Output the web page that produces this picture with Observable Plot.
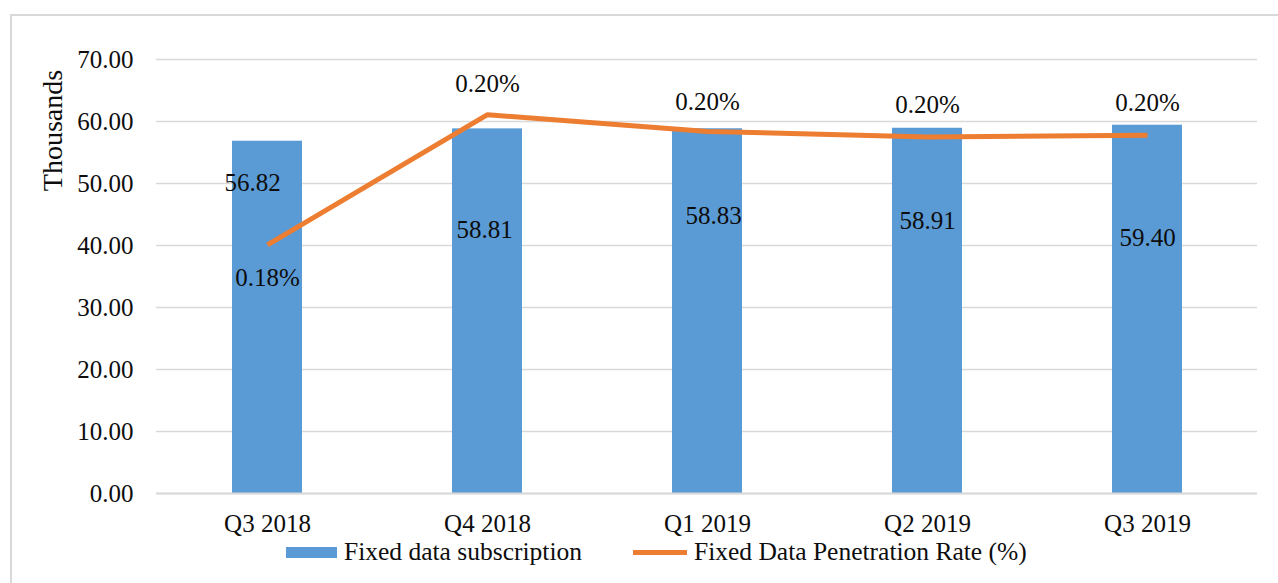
<!DOCTYPE html>
<html><head><meta charset="utf-8">
<script src="https://cdn.jsdelivr.net/npm/d3@7"></script>
<script src="https://cdn.jsdelivr.net/npm/@observablehq/plot@0.6"></script>
<style>
body{margin:0;width:1278px;height:583px;overflow:hidden;background:#fff;position:relative;font-family:"Liberation Serif",serif;}
#frame{position:absolute;left:10px;top:14px;width:1300px;height:620px;border:2px solid #d9d9d9;}
#chart{position:absolute;left:0;top:0;}
#legend{position:absolute;left:286px;top:537px;height:30px;display:flex;align-items:center;font-size:25.5px;color:#0d0d0d;white-space:nowrap;}
.sw{display:inline-block;}
</style></head><body>
<div id="frame"></div><div id="chart"></div><div id="legend"></div>
<script>
// ---- data ----
const quarters = ["Q3 2018", "Q4 2018", "Q1 2019", "Q2 2019", "Q3 2019"];
const subscriptions = [56.82, 58.81, 58.83, 58.91, 59.40];      // thousands
const penetration = [0.1801, 0.2011, 0.1984, 0.1975, 0.1978];   // percent
const yTicks = [0, 10, 20, 30, 40, 50, 60, 70];
const seriesNames = ["Fixed data subscription", "Fixed Data Penetration Rate (%)"];
const rateAxis = [0.14, 0.21]; // hidden secondary axis range

// ---- label layout (in y units / px offsets) ----
const barLabelY = [50.1, 42.5, 44.7, 43.9, 41.2];
const barLabelDx = [-15, -3, 6, 0, 0];
const rateLabelY = [34.8, 66.0, 63.2, 62.6, 63.0];

const blue = "#5B9BD5", orange = "#ED7D31", grid = "#d9d9d9", ink = "#0d0d0d";
const yMax = yTicks[yTicks.length - 1];
const toPrimary = r => (r - rateAxis[0]) / (rateAxis[1] - rateAxis[0]) * yMax;

const rows = quarters.map((q, i) => ({q, v: subscriptions[i], r: penetration[i]}));
const fmt2 = d3.format(".2f");

const chart = Plot.plot({
  width: 1278, height: 583,
  marginLeft: 156, marginRight: 21, marginTop: 59, marginBottom: 90,
  style: {fontFamily: "Liberation Serif, serif", fontSize: "25px", color: ink, background: "transparent"},
  x: {domain: quarters, paddingInner: 0.682, paddingOuter: 0.341, label: null},
  y: {domain: [0, yMax], label: null},
  marks: [
    Plot.gridY(yTicks, {stroke: grid, strokeOpacity: 1, strokeWidth: 1.5}),
    Plot.axisY(yTicks, {tickSize: 0, tickPadding: 23, tickFormat: fmt2, label: null}),
    Plot.axisX({tickSize: 0, tickPadding: 21, label: null}),
    Plot.barY(rows, {x: "q", y: "v", fill: blue}),
    Plot.ruleY([0], {stroke: grid, strokeWidth: 2}),
    Plot.line(rows, {x: "q", y: d => toPrimary(d.r), stroke: orange, strokeWidth: 5, strokeLinejoin: "round", strokeLinecap: "butt"}),
    ...rows.map((d, i) => Plot.text([d], {x: "q", y: () => barLabelY[i], dx: barLabelDx[i], text: d => fmt2(d.v), fill: ink})),
    Plot.text(rows, {x: "q", y: (d, i) => rateLabelY[i], text: d => fmt2(d.r) + "%", fill: ink}),
    Plot.text(["Thousands"], {frameAnchor: "top-left", textAnchor: "middle", lineAnchor: "middle", rotate: -90, dx: -103, dy: 71, fontSize: 28, fill: ink})
  ]
});
document.getElementById("chart").appendChild(chart);

const lg = document.getElementById("legend");
lg.innerHTML =
  `<span class="sw" style="width:51px;height:11px;background:${blue}"></span>` +
  `<span style="margin-left:7px">${seriesNames[0]}</span>` +
  `<span class="sw" style="margin-left:51px;width:54px;height:5px;background:${orange}"></span>` +
  `<span style="margin-left:7px">${seriesNames[1]}</span>`;
</script>
</body></html>
